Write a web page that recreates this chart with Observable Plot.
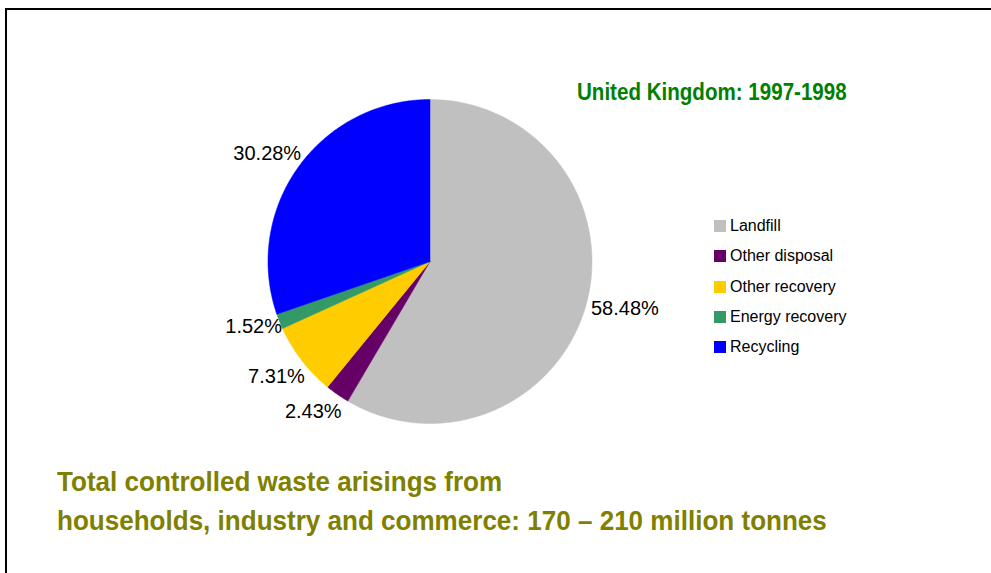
<!DOCTYPE html>
<html><head><meta charset="utf-8">
<script src="https://cdn.jsdelivr.net/npm/d3@7"></script>
<script src="https://cdn.jsdelivr.net/npm/@observablehq/plot@0.6"></script>
<style>
body{margin:0;background:#fff;font-family:"Liberation Sans",Arial,sans-serif;}
#wrap{position:relative;width:991px;height:573px;overflow:hidden;background:#fff;}
#frame{position:absolute;left:5px;top:8px;width:1100px;height:700px;border-top:2px solid #000;border-left:2px solid #000;}
#chart{position:absolute;left:0;top:0;}
#title{position:absolute;left:577px;top:81px;line-height:1;color:#008000;font-weight:bold;font-size:23px;font-family:"Liberation Sans",Arial,sans-serif;white-space:nowrap;transform:scaleX(0.894);transform-origin:0 0;}
#caption{position:absolute;left:57px;top:462px;line-height:39px;color:#808000;font-weight:bold;font-size:28px;font-family:"Liberation Sans",Arial,sans-serif;white-space:nowrap;transform:scaleX(0.93);transform-origin:0 0;}
#legend{position:absolute;left:714px;top:211px;font-size:16px;color:#000;}
.row{position:relative;height:30.3px;display:flex;align-items:center;}
.sw{width:12px;height:12px;margin-right:4px;}
</style>
</head><body>
<div id="wrap">
  <div id="frame"></div>
  <div id="chart"></div>
  <div id="title"></div>
  <div id="legend"></div>
  <div id="caption"></div>
</div>
<script>
// ---- data ----
const categories = ["Landfill", "Other disposal", "Other recovery", "Energy recovery", "Recycling"];
const shares = [58.48, 2.43, 7.31, 1.52, 30.28];
const labels = ["58.48%", "2.43%", "7.31%", "1.52%", "30.28%"];
const colors = ["#C0C0C0", "#660066", "#FFCC00", "#339966", "#0000FF"];
const titleText = "United Kingdom: 1997-1998";
const captionLines = ["Total controlled waste arisings from", "households, industry and commerce: 170 \u2013 210 million tonnes"];

// ---- build table ----
const table = categories.map((c, i) => ({key: c, value: shares[i], label: labels[i]}));
const arcs = d3.pie().sort(null).value(d => d.value).startAngle(0).endAngle(2 * Math.PI)(table);

const pts = [];
for (const a of arcs) {
  pts.push({key: a.data.key, x: 0, y: 0});
  const n = Math.max(2, Math.ceil((a.endAngle - a.startAngle) / 0.01));
  for (let k = 0; k <= n; k++) {
    const t = a.startAngle + (a.endAngle - a.startAngle) * k / n;
    pts.push({key: a.data.key, x: Math.sin(t), y: Math.cos(t)});
  }
  pts.push({key: a.data.key, x: 0, y: 0});
}

const LR = 1.03;
const lab = arcs.map(a => {
  const m = (a.startAngle + a.endAngle) / 2;
  const s = Math.sin(m), c = Math.cos(m);
  return {
    label: a.data.label,
    x: LR * s, y: LR * c,
    anchor: s >= 0 ? "start" : "end",
    line: c > 0.45 ? "bottom" : c < -0.45 ? "top" : "middle"
  };
});

const labelMarks = [];
for (const anchor of ["start", "end"]) {
  for (const line of ["top", "middle", "bottom"]) {
    const sub = lab.filter(d => d.anchor === anchor && d.line === line);
    if (!sub.length) continue;
    labelMarks.push(Plot.text(sub, {
      x: "x", y: "y", text: "label",
      textAnchor: anchor, lineAnchor: line,
      dx: anchor === "end" ? 7 : 0,
      dy: line === "top" ? 5 : line === "middle" ? 3 : -5,
      fontSize: 20, fill: "#000",
      fontFamily: "Liberation Sans, Arial, sans-serif"
    }));
  }
}

const cx = 429.5, cy = 261, r = 162;
const plot = Plot.plot({
  width: 991, height: 573,
  margin: 0,
  style: {background: "transparent", overflow: "visible"},
  x: {domain: [-1, 1], range: [cx - r, cx + r], axis: null},
  y: {domain: [-1, 1], range: [cy + r, cy - r], axis: null},
  color: {domain: categories, range: colors},
  marks: [
    Plot.line(pts, {x: "x", y: "y", z: "key", fill: "key", stroke: "key", strokeWidth: 0.5, curve: "linear"}),
    ...labelMarks
  ]
});
document.getElementById("chart").appendChild(plot);

document.getElementById("title").textContent = titleText;
document.getElementById("caption").innerHTML = captionLines.map(t => `<div>${t}</div>`).join("");

const leg = document.getElementById("legend");
categories.forEach((c, i) => {
  const row = document.createElement("div");
  row.className = "row";
  const sw = document.createElement("div");
  sw.className = "sw";
  sw.style.background = colors[i];
  const tx = document.createElement("span");
  tx.textContent = c;
  row.appendChild(sw); row.appendChild(tx);
  leg.appendChild(row);
});
</script>
</body></html>
